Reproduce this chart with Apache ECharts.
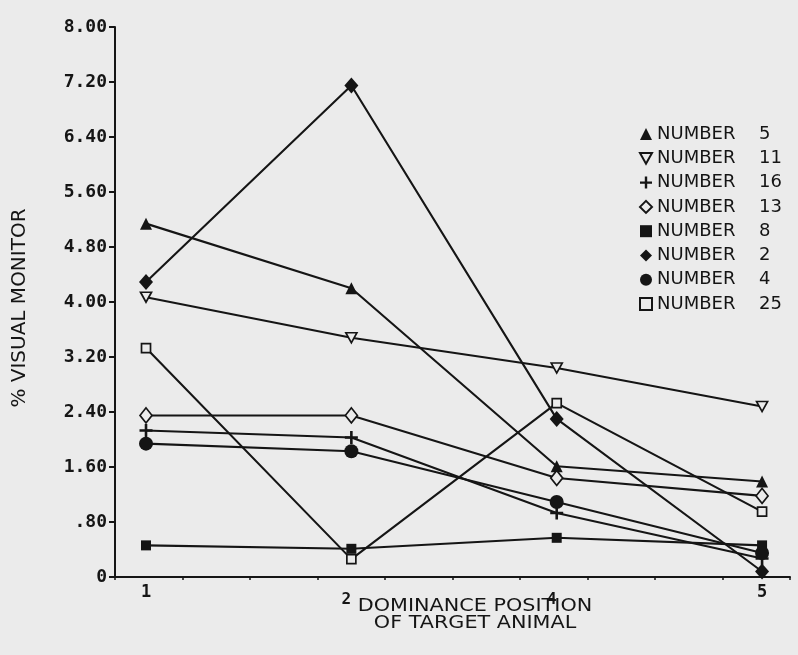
<!DOCTYPE html>
<html><head><meta charset="utf-8">
<script src="https://cdn.jsdelivr.net/npm/echarts@6/dist/echarts.min.js"></script>
<style>html,body{margin:0;padding:0;background:#ebebeb}#c{width:798px;height:655px}</style>
</head><body><div id="c"></div><script>
// ---- data ----
const categories = ['1', '2', '4', '5'];
const yTickLabels = ['0', '.80', '1.60', '2.40', '3.20', '4.00', '4.80', '5.60', '6.40', '7.20', '8.00'];
const seriesNames = ['NUMBER 5', 'NUMBER 11', 'NUMBER 16', 'NUMBER 13', 'NUMBER 8', 'NUMBER 2', 'NUMBER 4', 'NUMBER 25'];
const number5  = [5.14, 4.20, 1.61, 1.39];
const number11 = [4.07, 3.48, 3.04, 2.48];
const number16 = [2.13, 2.03, 0.93, 0.27];
const number13 = [2.35, 2.35, 1.44, 1.18];
const number8  = [0.46, 0.41, 0.57, 0.46];
const number2  = [4.29, 7.15, 2.30, 0.08];
const number4  = [1.94, 1.83, 1.09, 0.35];
const number25 = [3.33, 0.26, 2.53, 0.95];
const xTitle = 'DOMINANCE POSITION\nOF TARGET ANIMAL';
const yTitle = '% VISUAL MONITOR';

// ---- styles ----
const INK = '#151515';
const BG = '#ebebeb';
const DOWN_TRI = 'path://M0,0L10,0L5,9Z';
const PLUS = 'path://M4,0H6V4H10V6H6V10H4V6H0V4H4Z';
const styles = [
  { symbol: 'triangle', size: 12, fill: INK, open: false },
  { symbol: DOWN_TRI, size: [11, 10], fill: BG, open: true },
  { symbol: PLUS, size: 13, fill: INK, open: false },
  { symbol: 'diamond', size: [12, 15], fill: BG, open: true },
  { symbol: 'rect', size: 10, fill: INK, open: false },
  { symbol: 'diamond', size: [14, 16], fill: INK, open: false },
  { symbol: 'circle', size: 14, fill: INK, open: false },
  { symbol: 'rect', size: 9, fill: BG, open: true }
];
const values = [number5, number11, number16, number13, number8, number2, number4, number25];

const X_MIN = -0.151, X_MAX = 3.136;
const xTicks = [];
for (let k = 0; k <= 10; k++) xTicks.push(X_MIN + k * (X_MAX - X_MIN) / 10);

const chart = echarts.init(document.getElementById('c'), null, { renderer: 'canvas' });
chart.setOption({
  backgroundColor: BG,
  animation: false,
  grid: { left: 115, right: 8, top: 27, bottom: 78, containLabel: false },
  legend: {
    orient: 'vertical', left: 634, top: 120, itemWidth: 12, itemHeight: 12, itemGap: 6.3,
    selectedMode: false,
    data: seriesNames.map((n, i) => ({ name: n, icon: styles[i].symbol })),
    formatter: (name) => { const p = name.split(' '); return '{a|' + p[0] + ' }{b|' + p[1] + '}'; },
    textStyle: {
      rich: {
        a: { width: 102, fontFamily: 'DejaVu Sans', fontSize: 18, color: INK },
        b: { fontFamily: 'DejaVu Sans', fontSize: 18, color: INK }
      }
    }
  },
  graphic: [{
    type: 'text', x: 475, y: 598, scaleX: 1.22, silent: true,
    style: { text: xTitle, align: 'center', verticalAlign: 'top', fontFamily: 'DejaVu Sans', fontSize: 17, lineHeight: 17, fill: INK }
  }],
  xAxis: {
    type: 'value', min: X_MIN, max: X_MAX,
    axisLine: { show: true, lineStyle: { color: INK, width: 2 } },
    splitLine: { show: false },
    axisTick: { show: true, customValues: xTicks, length: 3, lineStyle: { color: INK, width: 1.5 } },
    axisLabel: {
      customValues: [0, 1, 2, 3], margin: 7,
      formatter: (v) => { const i = Math.round(v); const t = categories[i]; return (i === 1 || i === 2) ? '{lo|' + t + '}' : '{hi|' + t + '}'; },
      rich: {
        hi: { fontFamily: 'DejaVu Sans Mono', fontWeight: 'bold', fontSize: 17, color: INK },
        lo: { fontFamily: 'DejaVu Sans Mono', fontWeight: 'bold', fontSize: 16, color: INK, padding: [8, 10, 0, 0] }
      }
    }
  },
  yAxis: {
    type: 'value', min: 0, max: 8, interval: 0.8,
    axisLine: { show: true, onZero: false, lineStyle: { color: INK, width: 2 } },
    splitLine: { show: false },
    axisTick: { show: true, length: 6, lineStyle: { color: INK, width: 2 } },
    axisLabel: {
      margin: 8, fontFamily: 'DejaVu Sans Mono', fontWeight: 'bold', fontSize: 18, color: INK,
      padding: [0, 0, 5, 0],
      formatter: (v) => yTickLabels[Math.round(v / 0.8)]
    },
    name: yTitle, nameLocation: 'middle', nameGap: 85, nameRotate: 90,
    nameTextStyle: { fontFamily: 'DejaVu Sans', fontSize: 20, color: INK, padding: [0, 12, 0, 0] }
  },
  series: values.map((vals, i) => ({
    name: seriesNames[i], type: 'line',
    data: vals.map((v, j) => [j, v]),
    symbol: styles[i].symbol, symbolSize: styles[i].size,
    lineStyle: { color: INK, width: 2.1 },
    itemStyle: { color: styles[i].fill, borderColor: INK, borderWidth: styles[i].open ? 1.7 : 0 },
    emphasis: { disabled: true }
  }))
});
</script></body></html>
